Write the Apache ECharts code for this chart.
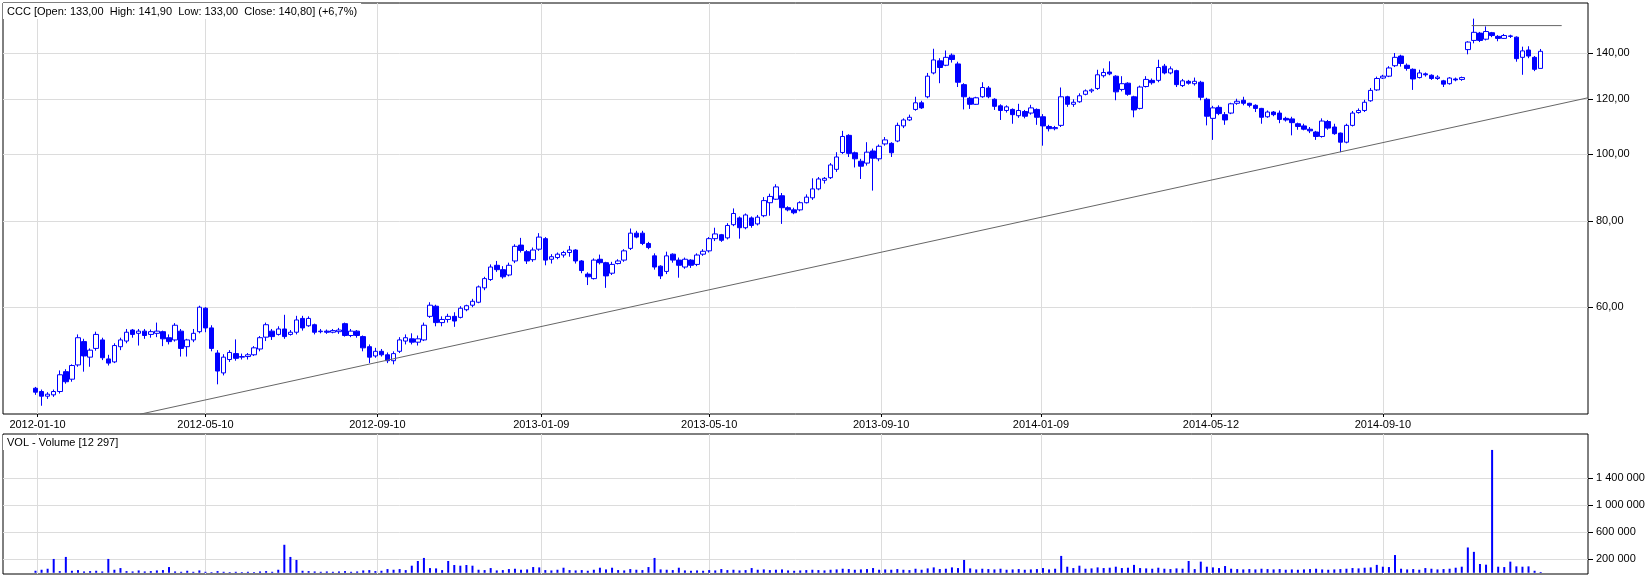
<!DOCTYPE html>
<html>
<head>
<meta charset="utf-8">
<title>CCC</title>
<script src="https://cdn.jsdelivr.net/npm/echarts@6/dist/echarts.min.js"></script>
<style>
  html, body { margin: 0; padding: 0; background: #fff; }
  #chart { width: 1648px; height: 579px; }
</style>
</head>
<body>
<div id="chart"></div>
<script>
// CCC quotes 2012-01 .. 2014-12, each bar groups 3 sessions
const SESSIONS_PER_BAR = 3

const opens = [
  45.8, 45.3, 44.6, 44.8, 45.3, 48.4, 47.2, 49.5, 53.5, 50.8,
  52.3, 53.8, 50.5, 50.0, 52.6, 53.6, 55.6, 55.0, 55.4, 54.8,
  55.0, 55.3, 54.2, 53.8, 55.4, 52.6, 53.8, 55.3, 59.8, 56.0,
  51.5, 48.2, 50.4, 51.4, 50.8, 50.9, 51.2, 52.2, 54.3, 55.4,
  54.8, 55.8, 54.8, 55.2, 57.8, 56.4, 56.6, 55.3, 55.4, 55.2,
  55.3, 56.8, 54.6, 55.4, 54.4, 52.6, 51.0, 51.8, 51.2, 50.2,
  51.8, 53.6, 54.0, 53.4, 53.8, 58.2, 60.2, 57.0, 57.6, 58.2,
  58.0, 59.5, 60.4, 61.0, 64.0, 65.8, 69.0, 68.0, 66.8, 70.0,
  73.8, 72.2, 70.3, 72.8, 75.4, 70.4, 70.8, 71.4, 72.0, 72.6,
  70.0, 67.0, 66.0, 70.4, 69.6, 67.2, 69.4, 70.2, 73.0, 76.8,
  76.8, 74.2, 71.2, 68.8, 67.6, 71.6, 70.2, 68.6, 70.2, 69.2,
  71.6, 72.4, 75.4, 76.4, 75.6, 79.0, 80.8, 78.2, 80.8, 79.2,
  81.4, 85.0, 86.0, 87.0, 83.6, 83.0, 83.0, 85.0, 86.4, 89.0,
  91.6, 92.4, 95.0, 100.5, 106.4, 100.4, 97.6, 97.0, 101.0, 98.4,
  103.4, 103.6, 104.4, 109.8, 112.0, 116.0, 118.6, 121.0, 131.0, 136.4,
  134.4, 139.0, 135.0, 126.0, 120.4, 118.0, 121.0, 124.6, 120.0, 117.4,
  115.6, 116.0, 113.6, 115.2, 114.6, 116.0, 113.2, 109.6, 108.8, 110.0,
  121.0, 118.0, 119.0, 122.0, 123.4, 124.4, 129.8, 131.4, 129.6, 124.0,
  126.6, 121.0, 116.4, 125.2, 127.8, 127.8, 134.0, 131.0, 132.0, 125.6,
  127.4, 126.4, 127.0, 120.0, 112.6, 116.8, 114.0, 114.6, 118.4, 119.6,
  118.4, 117.6, 116.4, 113.2, 115.0, 114.6, 112.6, 112.4, 110.6, 109.8,
  108.6, 107.6, 106.0, 111.4, 109.4, 107.2, 104.0, 110.0, 114.8, 115.6,
  119.4, 123.8, 128.8, 129.6, 134.2, 138.6, 134.4, 132.6, 129.0, 130.6,
  130.0, 128.6, 127.6, 126.4, 128.4, 128.2, 141.6, 146.0, 149.6, 146.6,
  149.8, 148.0, 147.0, 148.2, 147.6, 138.0, 141.4, 138.0, 133.0
]

const closes = [
  45.2, 44.6, 44.9, 45.3, 47.9, 46.8, 49.4, 54.2, 51.0, 52.0,
  54.8, 50.7, 49.8, 52.8, 53.8, 55.2, 54.8, 55.4, 54.6, 55.3,
  55.4, 54.0, 53.5, 56.5, 52.3, 53.8, 55.0, 60.0, 56.0, 52.3,
  48.5, 50.8, 51.6, 50.6, 50.9, 51.2, 52.4, 54.2, 56.6, 54.4,
  55.8, 54.4, 55.2, 57.5, 56.0, 57.8, 55.2, 55.4, 55.2, 55.5,
  55.6, 54.6, 55.4, 54.6, 52.4, 50.8, 51.8, 51.2, 50.2, 51.4,
  53.8, 54.2, 53.4, 54.0, 56.5, 60.4, 57.0, 57.6, 58.2, 57.3,
  59.8, 60.3, 61.2, 64.2, 66.0, 68.6, 68.0, 66.4, 69.0, 73.5,
  72.5, 70.0, 72.6, 75.8, 70.2, 71.0, 71.6, 72.0, 72.6, 70.0,
  67.8, 66.4, 70.2, 69.6, 66.6, 69.2, 70.0, 72.4, 76.8, 75.8,
  74.2, 73.2, 68.6, 66.6, 71.2, 70.2, 69.0, 70.4, 69.0, 71.4,
  72.3, 75.4, 76.6, 75.0, 78.8, 82.0, 78.2, 81.6, 78.8, 81.0,
  85.6, 86.8, 89.6, 83.6, 83.0, 82.2, 85.0, 86.6, 89.0, 92.0,
  92.2, 96.4, 99.0, 106.0, 100.2, 98.4, 96.0, 100.6, 98.6, 102.6,
  104.8, 100.4, 110.0, 112.0, 113.0, 118.6, 116.6, 129.6, 136.8, 133.4,
  138.0, 137.0, 127.0, 121.0, 118.0, 120.6, 124.8, 121.0, 117.2, 115.6,
  117.0, 114.0, 115.6, 113.4, 116.6, 113.0, 109.8, 108.8, 109.2, 121.0,
  118.0, 118.8, 121.4, 123.4, 123.8, 130.2, 131.2, 130.6, 123.0, 126.4,
  122.0, 115.8, 125.0, 128.2, 126.8, 133.4, 131.0, 132.8, 126.0, 127.6,
  126.6, 127.4, 120.8, 113.4, 116.6, 114.4, 112.0, 118.2, 119.2, 118.4,
  117.6, 116.4, 113.0, 115.0, 114.0, 112.2, 112.0, 111.0, 109.6, 108.6,
  108.0, 106.0, 111.6, 109.0, 107.0, 104.0, 110.0, 114.6, 115.6, 118.8,
  123.6, 128.6, 129.6, 133.2, 138.0, 135.2, 133.0, 128.4, 131.0, 130.2,
  128.6, 129.2, 126.2, 128.8, 128.0, 129.0, 145.2, 150.0, 146.0, 150.4,
  148.4, 147.0, 148.4, 148.0, 137.4, 141.0, 138.6, 132.6, 140.8
]

const lows = [
  44.8, 43.2, 44.2, 44.5, 45.0, 46.5, 46.8, 49.2, 48.4, 49.2,
  51.9, 50.3, 49.4, 49.8, 52.0, 53.2, 54.2, 52.8, 54.0, 54.2,
  54.3, 52.7, 53.0, 53.5, 50.9, 50.9, 53.4, 55.0, 55.2, 51.8,
  46.4, 47.8, 50.0, 50.2, 50.4, 50.4, 51.0, 51.8, 53.6, 53.8,
  54.6, 54.0, 54.6, 54.8, 55.5, 56.2, 54.8, 55.0, 54.9, 55.0,
  54.9, 54.4, 54.3, 54.2, 51.8, 49.8, 50.7, 50.9, 49.8, 49.6,
  51.5, 53.0, 53.0, 52.8, 53.6, 57.9, 56.3, 56.3, 57.0, 56.2,
  57.8, 59.2, 60.0, 60.8, 63.5, 65.5, 67.5, 66.0, 66.5, 69.5,
  72.0, 69.3, 69.8, 72.4, 69.0, 69.4, 70.4, 70.8, 71.0, 69.4,
  67.2, 64.6, 65.8, 69.2, 64.0, 66.8, 69.2, 69.8, 72.6, 75.5,
  73.8, 72.8, 68.0, 65.9, 67.0, 69.6, 66.2, 68.2, 68.4, 68.8,
  71.2, 72.0, 74.8, 74.6, 75.2, 78.6, 75.4, 77.8, 78.2, 78.8,
  81.0, 81.4, 85.8, 79.2, 82.6, 81.8, 82.6, 84.8, 85.8, 88.6,
  90.6, 92.0, 94.2, 100.0, 99.0, 95.6, 92.0, 96.2, 88.5, 97.6,
  102.8, 99.0, 104.0, 109.0, 111.6, 115.5, 116.2, 120.4, 130.4, 126.6,
  134.0, 135.6, 125.0, 116.0, 116.2, 117.8, 120.6, 120.4, 115.8, 112.0,
  114.8, 110.6, 112.8, 112.6, 114.0, 110.2, 102.8, 107.8, 108.2, 109.4,
  117.0, 117.0, 118.6, 121.6, 122.6, 123.8, 129.0, 130.0, 119.6, 123.2,
  121.4, 113.0, 116.0, 124.8, 126.0, 127.0, 130.4, 130.4, 125.0, 125.0,
  126.0, 125.6, 119.6, 110.0, 104.8, 113.8, 110.2, 114.2, 117.8, 117.6,
  116.8, 115.0, 110.6, 112.8, 113.4, 110.8, 111.4, 106.4, 108.4, 108.2,
  107.2, 104.8, 105.6, 108.4, 106.6, 100.6, 103.6, 109.6, 114.4, 115.0,
  119.0, 123.4, 128.4, 129.2, 133.6, 133.8, 132.0, 123.8, 128.6, 129.4,
  128.0, 128.0, 125.0, 126.0, 127.4, 127.6, 139.4, 144.6, 145.2, 146.0,
  147.6, 145.6, 146.8, 147.2, 136.0, 130.2, 137.6, 131.8, 133.0
]

const highs = [
  46.0, 45.6, 45.2, 45.6, 48.6, 48.8, 49.6, 54.8, 54.0, 52.3,
  55.3, 54.2, 51.2, 53.2, 54.2, 55.8, 55.8, 55.8, 55.8, 55.7,
  57.0, 55.5, 54.8, 56.9, 55.8, 54.0, 55.8, 60.3, 60.0, 56.5,
  52.0, 51.3, 52.0, 53.9, 51.4, 51.5, 52.7, 54.5, 57.0, 55.8,
  56.3, 58.5, 55.6, 58.3, 58.3, 58.2, 56.8, 55.8, 55.7, 55.8,
  56.0, 57.0, 55.8, 55.6, 54.6, 53.0, 52.4, 52.2, 51.6, 51.8,
  54.3, 54.8, 55.0, 54.6, 57.0, 61.0, 60.5, 58.2, 58.7, 59.0,
  60.2, 60.5, 61.7, 64.5, 66.4, 69.2, 70.0, 68.8, 69.6, 74.0,
  75.6, 72.6, 73.2, 76.8, 75.8, 71.6, 72.0, 72.4, 73.6, 72.8,
  70.2, 67.4, 70.6, 71.5, 69.8, 69.8, 70.4, 72.8, 78.0, 77.4,
  77.4, 74.6, 71.8, 69.0, 72.2, 71.8, 70.8, 70.8, 70.4, 71.8,
  72.8, 75.8, 78.2, 76.6, 79.4, 83.4, 81.2, 82.0, 81.2, 81.6,
  86.6, 87.6, 90.4, 87.8, 84.0, 83.6, 85.4, 87.4, 92.2, 92.6,
  92.6, 97.0, 100.6, 108.0, 106.8, 100.8, 98.4, 104.0, 101.8, 103.2,
  105.8, 104.0, 111.0, 112.6, 114.0, 121.0, 119.4, 131.0, 142.0, 137.6,
  141.2, 139.8, 136.0, 126.6, 121.0, 121.0, 127.0, 125.4, 120.4, 118.0,
  117.6, 116.4, 118.2, 115.8, 117.8, 116.4, 114.2, 110.2, 109.8, 124.8,
  121.4, 120.0, 122.4, 124.0, 124.4, 132.4, 133.0, 136.2, 130.0, 129.6,
  127.0, 121.4, 125.6, 129.6, 128.6, 136.9, 135.0, 133.9, 132.4, 128.4,
  128.0, 129.0, 127.6, 120.6, 117.4, 117.6, 115.0, 118.6, 120.2, 121.0,
  118.6, 118.0, 116.6, 115.6, 115.4, 115.6, 113.2, 113.2, 111.0, 110.6,
  109.4, 108.0, 112.6, 112.0, 110.6, 107.4, 110.6, 115.4, 116.4, 119.8,
  124.6, 129.4, 130.2, 134.0, 140.0, 139.2, 135.2, 133.0, 132.4, 131.2,
  130.4, 130.0, 128.0, 129.2, 129.0, 129.4, 145.6, 157.0, 150.2, 153.0,
  150.2, 148.6, 149.2, 148.8, 148.0, 143.0, 143.2, 138.6, 141.9
]

const volumes = [
  30000, 45000, 60000, 205000, 25000, 235000, 30000, 40000, 20000, 25000,
  30000, 20000, 205000, 45000, 70000, 25000, 20000, 35000, 20000, 25000,
  35000, 40000, 85000, 20000, 15000, 30000, 15000, 35000, 15000, 10000,
  25000, 15000, 10000, 15000, 10000, 15000, 10000, 20000, 25000, 15000,
  45000, 415000, 235000, 190000, 30000, 25000, 20000, 15000, 20000, 15000,
  20000, 25000, 15000, 20000, 35000, 40000, 25000, 30000, 55000, 45000,
  55000, 40000, 105000, 175000, 220000, 70000, 65000, 40000, 175000, 115000,
  105000, 115000, 105000, 45000, 40000, 70000, 35000, 40000, 55000, 60000,
  45000, 50000, 85000, 80000, 40000, 35000, 45000, 75000, 40000, 35000,
  40000, 30000, 45000, 75000, 50000, 75000, 40000, 35000, 55000, 45000,
  40000, 85000, 220000, 50000, 45000, 40000, 75000, 35000, 30000, 35000,
  30000, 40000, 35000, 55000, 40000, 45000, 35000, 40000, 70000, 45000,
  50000, 40000, 45000, 50000, 35000, 30000, 35000, 40000, 45000, 40000,
  35000, 45000, 50000, 60000, 55000, 45000, 50000, 55000, 70000, 45000,
  50000, 45000, 55000, 45000, 40000, 60000, 45000, 65000, 80000, 55000,
  60000, 80000, 70000, 190000, 65000, 50000, 60000, 55000, 50000, 60000,
  45000, 50000, 55000, 45000, 50000, 55000, 70000, 50000, 60000, 250000,
  90000, 70000, 105000, 60000, 65000, 80000, 70000, 75000, 90000, 70000,
  75000, 117000, 70000, 65000, 60000, 75000, 60000, 55000, 65000, 60000,
  175000, 55000, 165000, 90000, 80000, 70000, 100000, 60000, 55000, 50000,
  55000, 50000, 60000, 55000, 50000, 55000, 45000, 50000, 45000, 50000,
  55000, 60000, 50000, 45000, 50000, 55000, 60000, 70000, 65000, 75000,
  80000, 117000, 90000, 85000, 263000, 60000, 50000, 55000, 45000, 70000,
  60000, 50000, 55000, 60000, 75000, 90000, 375000, 310000, 130000, 120000,
  1820000, 90000, 85000, 165000, 95000, 90000, 95000, 30000, 12297
]

// date ticks, position = session number from the first bar
const tickSessions = [1, 84, 169, 250, 333, 418, 497, 581, 666]
const tickLabels = ['2012-01-10', '2012-05-10', '2012-09-10', '2013-01-09', '2013-05-10',
  '2013-09-10', '2014-01-09', '2014-05-12', '2014-09-10']
const priceTicks = [60, 80, 100, 120, 140]
const volumeTicks = [200000, 600000, 1000000, 1400000]

// drawn lines (session, price)
const trendSessions = [51.7, 767.4]
const trendPrices = [42.0, 120.6]
const resistSessions = [709.9, 754.4]
const resistPrices = [153.4, 153.4]

const headerText = 'CCC [Open: 133,00  High: 141,90  Low: 133,00  Close: 140,80] (+6,7%)'
const volumeText = 'VOL - Volume [12 297]'

// price axis is logarithmic -> plot ln(price) on a linear axis
const ln = Math.log
const FONT = 'Liberation Sans, Arial, sans-serif'
const GRID_LINE = '#dcdcdc'
const BLUE = '#0000ff'

const candles = opens.map((o, i) => [i * SESSIONS_PER_BAR, ln(o), ln(closes[i]), ln(lows[i]), ln(highs[i])])
const volumeBars = volumes.map((v, i) => [i * SESSIONS_PER_BAR, v])

const fmtPrice = v => Math.exp(v).toFixed(2).replace('.', ',')
const fmtVolume = v => String(Math.round(v)).replace(/\B(?=(\d{3})+(?!\d))/g, ' ')
const fmtDate = v => {
  const idx = tickSessions.indexOf(Math.round(v))
  return idx >= 0 ? tickLabels[idx] : ''
}

const xCommon = {
  type: 'value',
  min: -16.06,
  max: 767.4,
  axisLine: { show: false, onZero: false },
  splitLine: { show: true, lineStyle: { color: GRID_LINE, width: 1 } }
}

const chart = echarts.init(document.getElementById('chart'), null, { renderer: 'canvas' })

chart.setOption({
  animation: false,
  backgroundColor: '#fff',
  textStyle: { fontFamily: FONT },
  title: [
    {
      text: headerText,
      left: 3,
      top: 3,
      padding: [3, 4, 2, 4],
      backgroundColor: '#fff',
      textStyle: { fontSize: 11, fontWeight: 'normal', color: '#000', fontFamily: FONT }
    },
    {
      text: volumeText,
      left: 3,
      top: 435,
      padding: [2, 4, 2, 4],
      backgroundColor: '#fff',
      textStyle: { fontSize: 11, fontWeight: 'normal', color: '#000', fontFamily: FONT }
    }
  ],
  grid: [
    { left: 3, top: 3, width: 1585, height: 411, show: true, borderColor: '#000', borderWidth: 1, containLabel: false, outerBoundsMode: 'none' },
    { left: 3, top: 434, width: 1585, height: 140, show: true, borderColor: '#000', borderWidth: 1, containLabel: false, outerBoundsMode: 'none' }
  ],
  xAxis: [
    Object.assign({}, xCommon, {
      gridIndex: 0,
      position: 'bottom',
      axisTick: { show: true, length: 3, customValues: tickSessions, lineStyle: { color: '#000' } },
      axisLabel: {
        customValues: tickSessions,
        formatter: fmtDate,
        fontSize: 11,
        color: '#000',
        margin: 5,
        fontFamily: FONT
      }
    }),
    Object.assign({}, xCommon, {
      gridIndex: 1,
      position: 'bottom',
      axisTick: { show: false, customValues: tickSessions },
      axisLabel: { show: false }
    })
  ],
  yAxis: [
    {
      gridIndex: 0,
      type: 'value',
      position: 'right',
      min: ln(42.03),
      max: ln(165.4),
      axisLine: { show: false, onZero: false },
      axisTick: { show: true, length: 5, customValues: priceTicks.map(ln), lineStyle: { color: '#000' } },
      axisLabel: {
        customValues: priceTicks.map(ln),
        formatter: fmtPrice,
        fontSize: 11,
        color: '#000',
        margin: 8,
        fontFamily: FONT
      },
      splitLine: { show: true, lineStyle: { color: GRID_LINE, width: 1 } }
    },
    {
      gridIndex: 1,
      type: 'value',
      position: 'right',
      min: -18000,
      max: 2056000,
      axisLine: { show: false, onZero: false },
      axisTick: { show: true, length: 5, customValues: volumeTicks, lineStyle: { color: '#000' } },
      axisLabel: {
        customValues: volumeTicks,
        formatter: fmtVolume,
        fontSize: 11,
        color: '#000',
        margin: 8,
        fontFamily: FONT
      },
      splitLine: { show: true, lineStyle: { color: GRID_LINE, width: 1 } }
    }
  ],
  series: [
    {
      name: 'CCC',
      type: 'candlestick',
      xAxisIndex: 0,
      yAxisIndex: 0,
      data: candles,
      encode: { x: 0, y: [1, 2, 3, 4] },
      barWidth: 5,
      itemStyle: {
        color: '#fff',
        color0: BLUE,
        borderColor: BLUE,
        borderColor0: BLUE,
        borderWidth: 1
      },
      silent: true
    },
    {
      name: 'trend',
      type: 'line',
      xAxisIndex: 0,
      yAxisIndex: 0,
      data: trendSessions.map((s, i) => [s, ln(trendPrices[i])]),
      symbol: 'none',
      lineStyle: { color: '#666', width: 1 },
      silent: true
    },
    {
      name: 'resistance',
      type: 'line',
      xAxisIndex: 0,
      yAxisIndex: 0,
      data: resistSessions.map((s, i) => [s, ln(resistPrices[i])]),
      symbol: 'none',
      lineStyle: { color: '#666', width: 1 },
      silent: true
    },
    {
      name: 'VOL',
      type: 'bar',
      xAxisIndex: 1,
      yAxisIndex: 1,
      data: volumeBars,
      barWidth: 2,
      itemStyle: { color: BLUE },
      silent: true
    }
  ]
})
</script>
</body>
</html>
